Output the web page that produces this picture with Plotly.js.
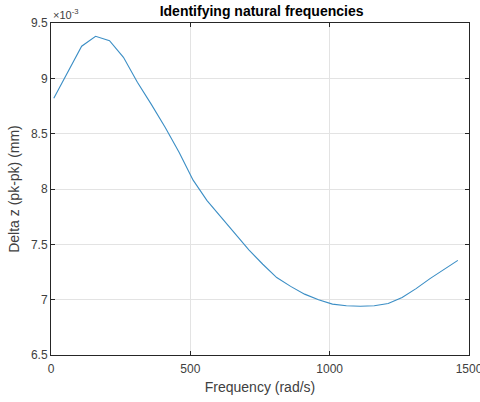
<!DOCTYPE html>
<html>
<head>
<meta charset="utf-8">
<script src="https://cdn.plot.ly/plotly-3.0.1.min.js"></script>
<style>html,body{margin:0;padding:0;background:#fff;}#chart{width:480px;height:402px;}</style>
</head>
<body>
<div id="chart"></div>
<script>
// Frequency (rad/s)
const frequency = [10, 60, 110, 160, 210, 260, 310, 360, 410, 460, 510, 560, 610, 660, 710, 760, 810, 860, 910, 960, 1010, 1060, 1110, 1160, 1210, 1260, 1310, 1360, 1410, 1460];
// Delta z (pk-pk), in units of 1e-3 mm
const deltaZ = [8.82, 9.05, 9.29, 9.38, 9.34, 9.19, 8.965, 8.765, 8.555, 8.33, 8.08, 7.895, 7.75, 7.60, 7.45, 7.32, 7.20, 7.12, 7.05, 7.00, 6.96, 6.945, 6.94, 6.945, 6.965, 7.02, 7.10, 7.19, 7.27, 7.355];
const xTickVals = [0, 500, 1000, 1500];
const xTickText = ['0', '500', '1000', '1500'];
const exponentLabel = '\u00d710<sup>-3</sup>';
const titleText = 'Identifying natural frequencies';
const xTitle = 'Frequency (rad/s)';
const yTitle = 'Delta z (pk-pk) (mm)';

const axisColor = '#262626';
const labelColor = '#404040';
const font = 'Liberation Sans, Arial, sans-serif';

Plotly.newPlot('chart', [{
  x: frequency, y: deltaZ, type: 'scatter', mode: 'lines',
  line: {color: '#3b8ec5', width: 1.1}, hoverinfo: 'skip'
}], {
  width: 480, height: 402,
  margin: {l: 51, r: 11, t: 23, b: 47},
  paper_bgcolor: '#fff', plot_bgcolor: '#fff',
  showlegend: false,
  font: {family: font, color: labelColor, size: 12},
  title: {text: '<b>' + titleText + '</b>', x: 0.545, xanchor: 'center', y: 0.973, yanchor: 'middle', font: {size: 14, color: '#000', family: font}},
  xaxis: {
    range: [0, 1500], tickmode: 'array', tickvals: xTickVals, ticktext: xTickText,
    ticklabeloverflow: 'allow', ticklabelstandoff: 3,
    showgrid: true, gridcolor: '#e3e3e3', gridwidth: 1,
    zeroline: false, showline: true, linecolor: axisColor, linewidth: 1, mirror: 'ticks',
    ticks: 'inside', ticklen: 4, tickcolor: axisColor,
    tickfont: {size: 12, color: labelColor},
    title: {text: xTitle, font: {size: 14, color: labelColor}, standoff: 6}
  },
  yaxis: {
    range: [6.5, 9.5], dtick: 0.5, tick0: 6.5,
    showgrid: true, gridcolor: '#e3e3e3', gridwidth: 1,
    zeroline: false, showline: true, linecolor: axisColor, linewidth: 1, mirror: 'ticks',
    ticks: 'inside', ticklen: 4, tickcolor: axisColor,
    tickfont: {size: 12, color: labelColor},
    title: {text: yTitle, font: {size: 14, color: labelColor}, standoff: 8}
  },
  annotations: [{
    text: exponentLabel, xref: 'paper', yref: 'paper', x: 0.0, y: 1.0,
    xanchor: 'left', yanchor: 'bottom', showarrow: false,
    font: {size: 11, color: labelColor, family: font}
  }]
}, {staticPlot: true, displayModeBar: false});
</script>
</body>
</html>
